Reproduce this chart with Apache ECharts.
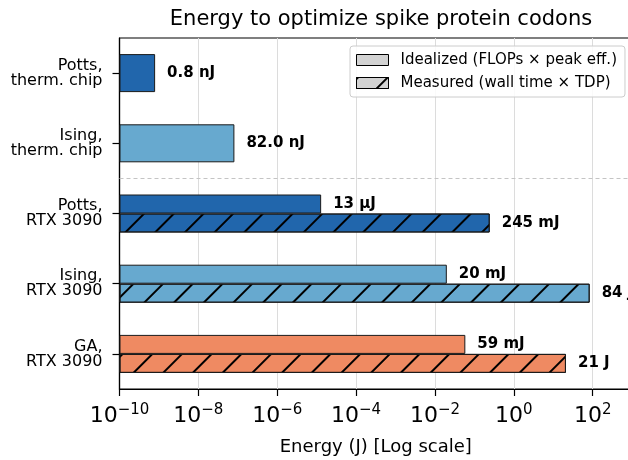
<!DOCTYPE html>
<html>
<head>
<meta charset="utf-8">
<script src="https://cdn.jsdelivr.net/npm/echarts@6/dist/echarts.min.js"></script>
<style>
html, body { margin: 0; padding: 0; background: #fff; }
#chart { width: 628px; height: 460px; }
</style>
</head>
<body>
<div id="chart"></div>
<script>
// ---- data ----
const categories = ['Potts,\ntherm. chip', 'Ising,\ntherm. chip', 'Potts,\nRTX 3090', 'Ising,\nRTX 3090', 'GA,\nRTX 3090'];
const chipEnergy = [8e-10, 8.2e-8, null, null, null];          // J
const idealEnergy = [null, null, 1.3e-5, 0.020, 0.059];         // J
const measuredEnergy = [null, null, 0.245, 84, 21];             // J
const chipLabels = ['0.8 nJ', '82.0 nJ', '', '', ''];
const idealLabels = ['', '', '13 µJ', '20 mJ', '59 mJ'];
const measuredLabels = ['', '', '245 mJ', '84 J', '21 J'];
const tickExponents = [-10, -8, -6, -4, -2, 0, 2];
const seriesNames = ['Idealized (FLOPs × peak eff.)', 'Measured (wall time × TDP)'];
const barColors = ['#2166ac', '#67a9cf', '#2166ac', '#67a9cf', '#ef8a62'];
const chipCategoryCount = 2; // separator drawn after the thermal-chip rows

const FONT = 'DejaVu Sans';
const hatch = { symbol: 'rect', symbolSize: 1, color: '#000', dashArrayX: [1, 0], dashArrayY: [1.3, 18.5], rotation: -Math.PI / 4 };

function toData(arr) {
  return arr.map((v, i) => v == null ? '-' : { value: Math.log10(v), itemStyle: { color: barColors[i] } });
}
function labelCfg(texts) {
  return {
    show: true, position: 'right', distance: 12,
    fontFamily: FONT, fontWeight: 'bold', fontSize: 15, color: '#000',
    formatter: p => texts[p.dataIndex]
  };
}

const chart = echarts.init(document.getElementById('chart'), null, { renderer: 'canvas' });
chart.setOption({
  animation: false,
  backgroundColor: '#fff',
  textStyle: { fontFamily: FONT },
  title: {
    text: 'Energy to optimize spike protein codons',
    left: 376, top: 4, textAlign: 'center',
    textStyle: { fontFamily: FONT, fontSize: 21, fontWeight: 'normal', color: '#000' }
  },
  legend: {
    orient: 'vertical', left: 350, top: 46,
    padding: [6, 8, 6, 6],
    itemWidth: 32, itemHeight: 11, itemGap: 7,
    icon: 'rect',
    borderColor: '#cccccc', borderWidth: 1, borderRadius: 3,
    backgroundColor: 'rgba(255,255,255,0.85)',
    textStyle: { fontFamily: FONT, fontSize: 15, color: '#000', lineHeight: 16, padding: [0, 0, 0, 7] },
    data: [
      { name: seriesNames[0], itemStyle: { color: '#d3d3d3', borderColor: '#000', borderWidth: 1 } },
      { name: seriesNames[1], itemStyle: { color: '#d3d3d3', borderColor: '#000', borderWidth: 1, decal: hatch } }
    ]
  },
  grid: {
    left: 119.5, top: 38, width: 512.6, bottom: 71,
    outerBoundsMode: 'none', containLabel: false,
    show: true, borderColor: '#000', borderWidth: 1.2, backgroundColor: 'transparent'
  },
  xAxis: {
    type: 'value', min: -10, max: 3, interval: 2, startValue: -10,
    name: 'Energy (J) [Log scale]', nameLocation: 'middle', nameGap: 49,
    nameTextStyle: { fontFamily: FONT, fontSize: 18, color: '#000' },
    axisLine: { show: true, onZero: false, lineStyle: { color: '#000', width: 1.2 } },
    axisTick: { show: true, length: 7, lineStyle: { color: '#000', width: 1.2 } },
    splitLine: { show: true, lineStyle: { color: '#dcdcdc', width: 1 } },
    axisLabel: {
      margin: 14, showMaxLabel: false, color: '#000',
      formatter: v => tickExponents.includes(v) ? '{b|10}{s|' + String(v).replace('-', '\u2212') + '}' : '',
      rich: {
        b: { fontFamily: FONT, fontSize: 22, color: '#000' },
        s: { fontFamily: FONT, fontSize: 15, color: '#000', padding: [0, 0, 12, 0] }
      }
    }
  },
  yAxis: [
    {
      type: 'category', data: categories, inverse: true,
      axisLine: { show: true, onZero: false, lineStyle: { color: '#000', width: 1.2 } },
      axisTick: { show: true, alignWithLabel: true, length: 7, lineStyle: { color: '#000', width: 1.2 } },
      axisLabel: { fontFamily: FONT, fontSize: 16, lineHeight: 15, color: '#000', margin: 17, align: 'right' },
      splitLine: { show: false }
    },
    {
      type: 'category', data: categories, inverse: true, show: false
    },
    {
      type: 'value', min: 0, max: categories.length, inverse: true, show: false,
      splitLine: { show: false }
    }
  ],
  series: [
    {
      name: seriesNames[0], type: 'bar', yAxisIndex: 0, barWidth: 38,
      data: toData(chipEnergy),
      itemStyle: { borderColor: '#1a1a1a', borderWidth: 1 },
      label: labelCfg(chipLabels)
    },
    {
      name: seriesNames[0], type: 'bar', yAxisIndex: 1, barWidth: 19, barGap: 0,
      data: toData(idealEnergy),
      itemStyle: { borderColor: '#1a1a1a', borderWidth: 1 },
      label: labelCfg(idealLabels)
    },
    {
      name: seriesNames[1], type: 'bar', yAxisIndex: 1, barWidth: 19, barGap: 0,
      data: toData(measuredEnergy),
      itemStyle: { borderColor: '#1a1a1a', borderWidth: 1, decal: hatch },
      label: labelCfg(measuredLabels)
    },
    {
      name: 'separator', type: 'line', xAxisIndex: 0, yAxisIndex: 2, data: [],
      silent: true,
      markLine: {
        silent: true, symbol: 'none', animation: false,
        label: { show: false },
        lineStyle: { color: '#c4c4c4', type: [4, 3], width: 1 },
        data: [{ yAxis: chipCategoryCount }]
      }
    }
  ]
});
</script>
</body>
</html>
